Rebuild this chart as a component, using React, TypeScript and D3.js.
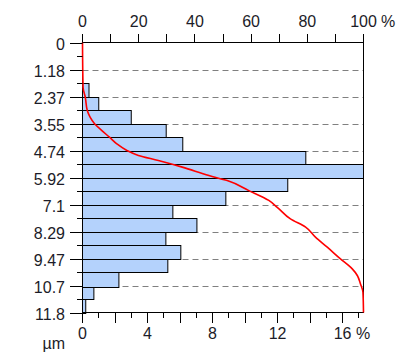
import React from "react";
import * as d3 from "d3";

// Size classes (µm), bin width = 11.83 / 20
const binEdges: number[] = [0, 0.59, 1.18, 1.77, 2.37, 2.96, 3.55, 4.14, 4.74, 5.33, 5.92, 6.51, 7.1, 7.69, 8.29, 8.88, 9.47, 10.06, 10.7, 11.24, 11.83];
// Frequency per class (%)
const freqValues: number[] = [0, 0, 0, 0.4, 1.0, 3.0, 5.15, 6.17, 13.74, 17.29, 12.63, 8.82, 5.56, 7.04, 5.13, 6.05, 5.25, 2.24, 0.7, 0.2];

// Cumulative curve: size (µm) and cumulative %
const cumSize: number[] = [0, 1.96, 2.4, 2.98, 3.27, 3.56, 3.86, 4.15, 4.44, 4.73, 4.95, 5.17, 5.46, 5.83, 6.05, 6.49, 6.92, 7.22, 7.73, 8.09, 8.53, 8.97, 9.48, 9.92, 10.21, 10.57, 10.94, 11.83];
const cumPct: number[] = [0, 0.2, 1.0, 1.7, 2.7, 4.3, 6.9, 9.6, 12.2, 15.8, 19.9, 27, 35.5, 45, 51.5, 59.2, 66.3, 69.3, 74, 79.4, 82.9, 87.1, 91.8, 96, 97.8, 98.9, 99.8, 100];

const yTickValues: number[] = [0, 1.183, 2.366, 3.549, 4.732, 5.915, 7.098, 8.281, 9.464, 10.647, 11.83];
const yTickLabels: string[] = ["0", "1.18", "2.37", "3.55", "4.74", "5.92", "7.1", "8.29", "9.47", "10.7", "11.8"];
const topTicks: number[] = [0, 10, 20, 30, 40, 50, 60, 70, 80, 90, 100];
const topLabels: number[] = [0, 20, 40, 60, 80, 100];
const bottomTicks: number[] = [0, 1, 2, 3, 4, 5, 6, 7, 8, 9, 10, 11, 12, 13, 14, 15, 16, 17];
const bottomLabels: number[] = [0, 4, 8, 12, 16];

const FONT = "'Liberation Sans', Arial, sans-serif";
const TEXT = "#1c1c28";
const FS = 16;

export default function App() {
  const L = 82.5, R = 363.5, T = 42.5, B = 312.5;
  const y = d3.scaleLinear().domain([0, 11.83]).range([T, B]);
  const xB = d3.scaleLinear().domain([0, 17.29]).range([L, R]);
  const xT = d3.scaleLinear().domain([0, 100]).range([L, R]);

  const pts = cumSize.map((s, i) => [cumPct[i], s] as [number, number]);
  const line = d3
    .line<[number, number]>()
    .x((d) => xT(d[0]))
    .y((d) => y(d[1]))
    .curve(d3.curveMonotoneY);

  const minorY = binEdges.filter((_, i) => i % 2 === 1);

  return (
    <svg
      width={405}
      height={357}
      style={{ position: "absolute", left: 0, top: 0, background: "#fff" }}
      fontFamily={FONT}
    >
      <rect x={0} y={0} width={405} height={357} fill="#fff" />
      {/* gridlines */}
      {yTickValues.slice(1, -1).map((v, i) => (
        <line
          key={"g" + i}
          x1={L}
          x2={R}
          y1={Math.round(y(v)) + 0.5}
          y2={Math.round(y(v)) + 0.5}
          stroke="#808080"
          strokeWidth={1}
          strokeDasharray="6,4"
        />
      ))}
      {/* bars */}
      {freqValues.map((v, i) =>
        v > 0 ? (
          <rect
            key={"b" + i}
            x={L}
            y={Math.round(y(binEdges[i])) + 0.5}
            width={xB(v) - L}
            height={Math.round(y(binEdges[i + 1])) - Math.round(y(binEdges[i]))}
            fill="#b4d2fc"
            stroke="#000"
            strokeWidth={1}
          />
        ) : null
      )}
      {/* frame */}
      <rect x={L} y={T} width={R - L} height={B - T} fill="none" stroke="#000" strokeWidth={1} />
      {/* cumulative curve */}
      <path d={line(pts) || ""} fill="none" stroke="#ff0000" strokeWidth={1.6} />
      {/* left ticks */}
      {yTickValues.map((v, i) => (
        <g key={"yl" + i}>
          <line x1={70} x2={L} y1={Math.round(y(v)) + 0.5} y2={Math.round(y(v)) + 0.5} stroke="#000" />
          <text x={65} y={Math.round(y(v)) + 6.5} textAnchor="end" fontSize={FS} fill={TEXT}>
            {yTickLabels[i]}
          </text>
        </g>
      ))}
      {minorY.map((v, i) => (
        <line key={"ym" + i} x1={77} x2={L} y1={Math.round(y(v)) + 0.5} y2={Math.round(y(v)) + 0.5} stroke="#000" />
      ))}
      {/* top ticks */}
      {topTicks.map((v, i) => (
        <line key={"tt" + i} x1={Math.round(xT(v) - 0.5) + 0.5} x2={Math.round(xT(v) - 0.5) + 0.5} y1={34} y2={T} stroke="#000" />
      ))}
      {topLabels.map((v, i) => (
        <text key={"tl" + i} x={xT(v)} y={26.5} textAnchor="middle" fontSize={FS} fill={TEXT}>
          {String(v)}
        </text>
      ))}
      <text x={xT(100) + 17.5} y={26.5} textAnchor="start" fontSize={FS} fill={TEXT}>
        {"%"}
      </text>
      {/* bottom ticks */}
      {bottomTicks.map((v, i) => (
        <line
          key={"bt" + i}
          x1={Math.round(xB(v) - 0.5) + 0.5}
          x2={Math.round(xB(v) - 0.5) + 0.5}
          y1={B}
          y2={v % 2 === 0 ? 323 : 318}
          stroke="#000"
        />
      ))}
      {bottomLabels.map((v, i) => (
        <text key={"bl" + i} x={xB(v)} y={338.5} textAnchor="middle" fontSize={FS} fill={TEXT}>
          {String(v)}
        </text>
      ))}
      <text x={xB(16) + 13.5} y={338.5} textAnchor="start" fontSize={FS} fill={TEXT}>
        {"%"}
      </text>
      <text x={65} y={348.5} textAnchor="end" fontSize={FS} fill={TEXT}>
        {"µm"}
      </text>
    </svg>
  );
}
